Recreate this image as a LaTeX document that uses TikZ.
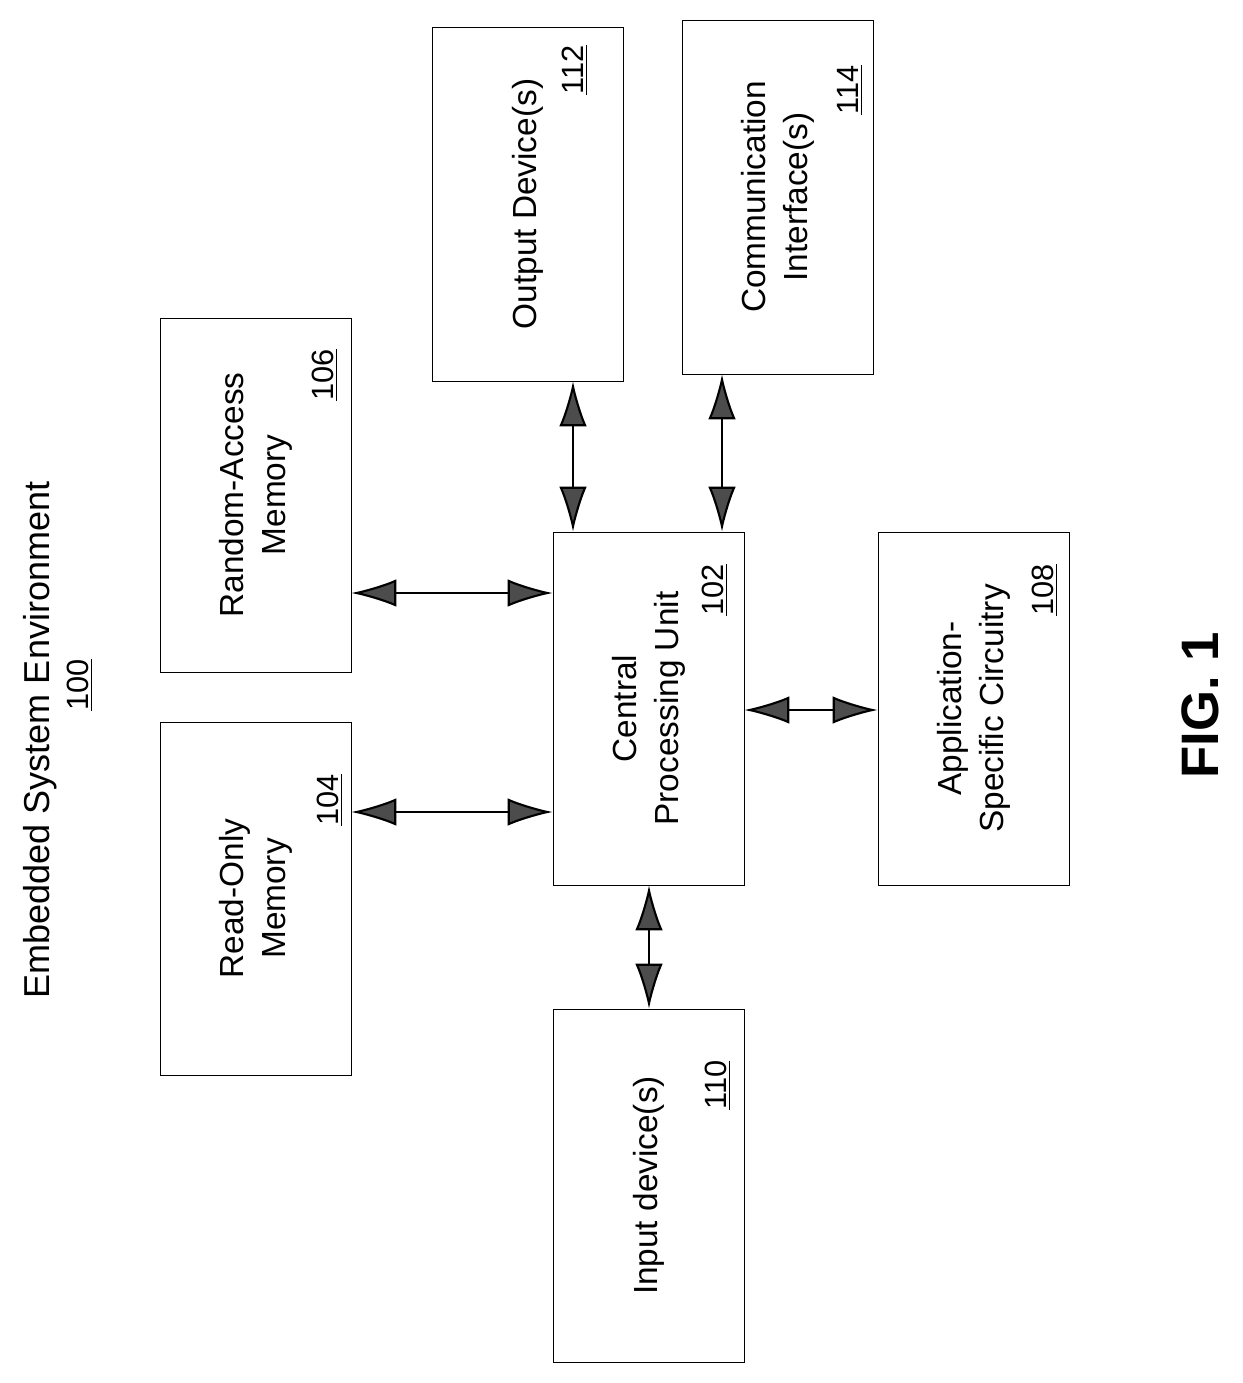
\documentclass[tikz,border=0pt]{standalone}
\usepackage{fontspec}
\setmainfont{Liberation Sans}
\usetikzlibrary{arrows.meta}
\begin{document}
\begin{tikzpicture}[x=0.02cm, y=-0.02cm,
	box/.style={draw, thin, rotate=90, align=center, inner sep=0pt,
		font=\fontsize{19}{24}\selectfont},
	num/.style={rotate=90, font=\fontsize{17.5}{20}\selectfont},
	link/.style={<->, line width=1.2pt,
		>={Latex[length=9mm, width=5.5mm, fill=gray!60!black]}}]
\useasboundingbox (0,0) rectangle (1243,1383);
% title
\node[num, font=\fontsize{20.5}{24}\selectfont] (title) at (40,740) {Embedded System Environment};
\node[num] (n100) at (80,685) {\underline{100}};
% boxes
\node[box, minimum width=7.06cm, minimum height=3.82cm] (rom) at (255.5,898.5) {Read-Only\\Memory};
\node[box, minimum width=7.08cm, minimum height=3.82cm] (ram) at (255.5,495) {Random-Access\\Memory};
\node[box, minimum width=7.08cm, minimum height=3.82cm] (out) at (527.5,204) {Output Device(s)};
\node[box, minimum width=7.08cm, minimum height=3.82cm] (com) at (777.5,197) {Communication\\Interface(s)};
\node[box, minimum width=7.06cm, minimum height=3.82cm] (cpu) at (648.5,708.5) {Central\\Processing Unit};
\node[box, minimum width=7.06cm, minimum height=3.82cm] (asc) at (973.5,708.5) {Application-\\Specific Circuitry};
\node[box, minimum width=7.06cm, minimum height=3.82cm] (inp) at (648.5,1185.5) {Input device(s)};
% reference numbers
\node[num] (n104) at (330,800) {\underline{104}};
\node[num] (n106) at (325,375) {\underline{106}};
\node[num] (n112) at (575,70) {\underline{112}};
\node[num] (n114) at (850,90) {\underline{114}};
\node[num] (n102) at (715,590) {\underline{102}};
\node[num] (n108) at (1045,590) {\underline{108}};
\node[num] (n110) at (718,1085) {\underline{110}};
\node[rotate=90, font=\fontsize{30}{34}\selectfont\bfseries] (fig) at (1200,705) {FIG. 1};
% connectors
\coordinate (yrom) at (0,812);
\coordinate (yram) at (0,593);
\coordinate (yasc) at (0,710);
\coordinate (xout) at (573,0);
\coordinate (xcom) at (722,0);
\coordinate (xinp) at (649,0);
\draw[link] (rom.south |- yrom) -- (cpu.north |- yrom);
\draw[link] (ram.south |- yram) -- (cpu.north |- yram);
\draw[link] (cpu.south |- yasc) -- (asc.north |- yasc);
\draw[link] (out.west -| xout) -- (cpu.east -| xout);
\draw[link] (com.west -| xcom) -- (cpu.east -| xcom);
\draw[link] (cpu.west -| xinp) -- (inp.east -| xinp);
\end{tikzpicture}
\end{document}
